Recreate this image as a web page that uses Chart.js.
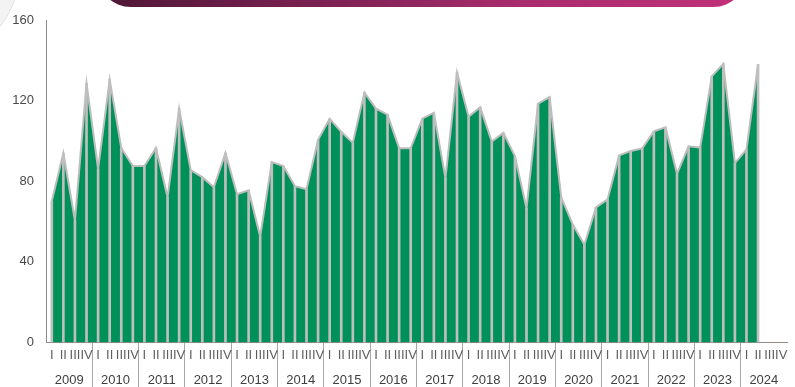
<!DOCTYPE html>
<html>
<head>
<meta charset="utf-8">
<script src="https://cdn.jsdelivr.net/npm/chart.js@4/dist/chart.umd.min.js"></script>
<style>
  html, body { margin: 0; padding: 0; background: #fff; overflow: hidden; }
  #wrap { position: relative; width: 795px; height: 387px; overflow: hidden; }
  #arc { position: absolute; left: -158px; top: -118px; width: 176px; height: 176px;
         border-radius: 50%; background: #f3f3f3; border: 1px solid #e2e2e2; }
  #banner { position: absolute; left: 97px; top: -40px; width: 650px; height: 47px;
            border-radius: 0 0 34px 34px;
            background: linear-gradient(90deg, #4e1735 0%, #7c2152 35%, #a92c6c 65%, #c13179 100%); }
  #box { position: absolute; left: 0; top: 0; width: 795px; height: 392px; }
</style>
</head>
<body>
<div id="wrap">
  <div id="arc"></div>
  <div id="banner"></div>
  <div id="box"><canvas id="chart"></canvas></div>
</div>
<script>
// quarterly values, 2009 Q1 .. 2024 Q2
const years = ['2009', '2010', '2011', '2012', '2013', '2014', '2015', '2016',
               '2017', '2018', '2019', '2020', '2021', '2022', '2023', '2024'];
const quarterNames = ['I', 'II', 'III', 'IV'];
const values = [
    70, 94, 60.5, 128.5,      // 2009
    86, 130.5, 96.5, 87.5,    // 2010
    87.5, 96.5, 72, 116,      // 2011
    85.5, 82, 77, 94,         // 2012
    73.5, 75.5, 52.5, 89.5,   // 2013
    87.5, 77.5, 76, 100.5,    // 2014
    111, 104.5, 99, 124,      // 2015
    116, 113, 96.3, 96.3,     // 2016
    111, 114, 81.5, 134,      // 2017
    112, 116.7, 99.7, 104,    // 2018
    92.5, 66.5, 118.5, 121.7, // 2019
    72, 58.5, 48.5, 67,       // 2020
    71, 92.8, 95, 96.3,       // 2021
    104.7, 106.7, 83.7, 97.3, // 2022
    96.7, 132, 138.3, 89,     // 2023
    95.8, 138                 // 2024
];
const yTicks = [0, 40, 80, 120, 160];

const quarterLabels = years.flatMap(() => quarterNames);

const fontFamily = '"Liberation Sans", Arial, sans-serif';
const sepColor = '#aaa6a1';
const clear = 'rgba(0,0,0,0)';

const ctx = document.getElementById('chart');
new Chart(ctx, {
    type: 'line',
    data: {
        labels: quarterLabels,
        datasets: [
            {
                type: 'bar',
                data: values,
                backgroundColor: '#bfbfbf',
                barThickness: 2,
                order: 0
            },
            {
                type: 'line',
                data: values,
                fill: 'origin',
                backgroundColor: '#00915b',
                borderColor: '#bdbdbd',
                borderWidth: 2,
                pointRadius: 0,
                tension: 0,
                order: 1
            }
        ]
    },
    options: {
        responsive: true,
        maintainAspectRatio: false,
        animation: false,
        layout: { padding: { top: 20, left: 12, right: 8, bottom: 0 } },
        plugins: {
            legend: { display: false },
            tooltip: { enabled: false }
        },
        scales: {
            x: {
                type: 'category',
                offset: true,
                weight: 0,
                grid: { display: false, drawTicks: false, offset: true },
                border: { display: true, color: '#8f8a85', width: 1 },
                ticks: {
                    autoSkip: false,
                    maxRotation: 0,
                    padding: 5.4,
                    color: '#5e5e5e',
                    font: { family: fontFamily, size: 13 }
                }
            },
            x2: {
                type: 'category',
                position: 'bottom',
                labels: years,
                offset: true,
                weight: 1,
                grid: { display: false, drawTicks: false, offset: true },
                border: { display: false },
                ticks: {
                    autoSkip: false,
                    maxRotation: 0,
                    padding: 3.8,
                    color: '#3f3f3f',
                    font: { family: fontFamily, size: 13 }
                }
            },
            // year separators hanging below the axis line
            xs: {
                type: 'category',
                position: { y: 0 },
                labels: years,
                offset: true,
                grid: {
                    offset: true,
                    drawOnChartArea: false,
                    tickLength: 60,
                    color: c => (c.index > 0 && c.index < years.length) ? sepColor : clear
                },
                border: { display: false },
                ticks: { display: false }
            },
            y: {
                min: 0,
                max: 160,
                afterBuildTicks: axis => { axis.ticks = yTicks.map(v => ({ value: v })); },
                afterFit: axis => { axis.width = 34; },
                grid: { display: false, drawTicks: false },
                border: { display: true, color: '#8f8a85', width: 1 },
                ticks: {
                    padding: 12,
                    color: '#4a4a4a',
                    font: { family: fontFamily, size: 13 }
                }
            }
        }
    }
});
</script>
</body>
</html>
